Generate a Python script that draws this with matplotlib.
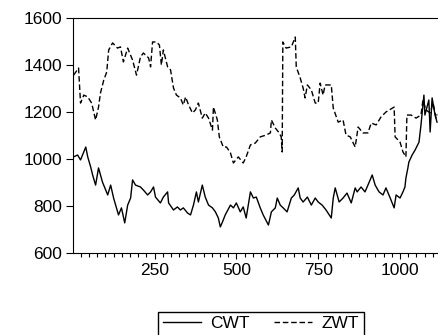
import matplotlib
matplotlib.use("Agg")
import matplotlib.pyplot as plt
from matplotlib.ticker import MultipleLocator

cwt_obs = [3, 15, 24, 40, 46, 55, 61, 70, 79, 91, 107, 116, 125, 140, 149, 159,
           168, 177, 183, 192, 207, 216, 229, 238, 247, 253, 268, 277, 290, 293,
           308, 320, 329, 338, 351, 360, 369, 378, 384, 396, 405, 415, 427, 436,
           445, 451, 457, 466, 482, 491, 500, 512, 521, 530, 543, 552, 561, 573,
           582, 598, 607, 619, 625, 634, 643, 655, 668, 677, 689, 695, 704, 717,
           729, 741, 750, 762, 774, 790, 796, 802, 814, 826, 838, 851, 863, 869,
           881, 893, 902, 915, 924, 936, 948, 957, 970, 982, 988, 1000, 1009,
           1015, 1018, 1024, 1027, 1037, 1046, 1058, 1064, 1073, 1076, 1088,
           1092, 1098, 1107, 1113]
cwt_val = [1009, 1017, 996, 1051, 1009, 966, 932, 889, 962, 902, 847, 889, 834,
           762, 792, 728, 804, 834, 911, 889, 881, 868, 847, 860, 881, 838, 813,
           838, 860, 813, 783, 796, 783, 792, 770, 762, 804, 860, 817, 889, 838,
           804, 792, 775, 749, 711, 730, 762, 804, 792, 813, 775, 796, 749, 860,
           834, 838, 792, 762, 719, 775, 792, 834, 804, 792, 775, 834, 847, 877,
           834, 817, 838, 804, 834, 817, 804, 783, 749, 834, 877, 817, 834, 855,
           813, 877, 860, 881, 860, 889, 932, 889, 860, 847, 877, 834, 792, 847,
           834, 860, 881, 919, 962, 987, 1017, 1038, 1072, 1145, 1272, 1187,
           1251, 1115, 1260, 1187, 1157]

zwt_obs = [3, 18, 24, 34, 46, 58, 70, 79, 85, 95, 104, 110, 122, 137, 146, 155,
           168, 183, 195, 207, 216, 232, 238, 244, 256, 265, 271, 277, 290, 299,
           308, 317, 329, 338, 345, 354, 366, 375, 384, 396, 405, 415, 427, 430,
           442, 448, 460, 470, 482, 491, 506, 521, 530, 543, 558, 573, 591, 604,
           607, 619, 631, 637, 640, 642, 652, 668, 674, 680, 683, 695, 704, 710,
           717, 729, 741, 750, 756, 765, 771, 790, 796, 811, 826, 835, 848, 863,
           872, 887, 902, 912, 927, 942, 957, 982, 985, 1000, 1009, 1018, 1021,
           1034, 1049, 1064, 1070, 1079, 1092, 1101, 1110, 1113]
zwt_val = [1357, 1387, 1238, 1272, 1264, 1238, 1166, 1221, 1281, 1336, 1370,
           1464, 1494, 1472, 1477, 1413, 1472, 1421, 1357, 1434, 1451, 1430,
           1392, 1498, 1498, 1485, 1400, 1464, 1392, 1379, 1302, 1272, 1260,
           1230, 1264, 1230, 1196, 1209, 1238, 1174, 1196, 1174, 1123, 1221,
           1166, 1094, 1051, 1051, 1026, 983, 1009, 983, 1009, 1060, 1068, 1094,
           1102, 1111, 1166, 1132, 1111, 1094, 1030, 1498, 1472, 1477, 1498,
           1519, 1392, 1345, 1302, 1260, 1315, 1294, 1238, 1238, 1323, 1272,
           1315, 1315, 1217, 1157, 1166, 1102, 1094, 1051, 1136, 1111, 1111,
           1153, 1145, 1179, 1200, 1221, 1094, 1072, 1030, 1009, 1187, 1187,
           1174, 1187, 1251, 1209, 1196, 1238, 1174, 1190]

plt.rcParams['font.family'] = ['Liberation Sans', 'DejaVu Sans']

fig = plt.figure(figsize=(4.38, 3.35), dpi=100)
ax = fig.add_axes([73/438, 1 - 253/335, 1 - 73/438, (253 - 18)/335])

ax.plot(cwt_obs, cwt_val, color='black', lw=1.0, label='CWT')
ax.plot(zwt_obs, zwt_val, color='black', lw=1.0, ls=(0, (4, 2)), label='ZWT')

ax.set_xlim(1, 1116)
ax.set_ylim(600, 1600)
ax.xaxis.set_major_locator(MultipleLocator(250))
ax.xaxis.set_minor_locator(MultipleLocator(25))
ax.yaxis.set_major_locator(MultipleLocator(200))
ax.tick_params(axis='x', which='major', direction='out', length=4.5, width=0.8,
               pad=3, labelsize=12.5)
ax.tick_params(axis='x', which='minor', direction='out', length=3, width=0.8)
ax.tick_params(axis='y', direction='out', length=5, width=0.8, pad=3,
               labelsize=12.5)
ax.spines['right'].set_visible(False)

# legend box sits under the plot, partly cut off by the figure edge
fig.legend(loc='upper center', bbox_to_anchor=(261/438, 1 - 303/335), ncol=2,
           fontsize=12.5, frameon=True, fancybox=False, edgecolor='black',
           framealpha=1, handlelength=2.2, handletextpad=0.55,
           columnspacing=1.4, borderpad=0.25)

fig.savefig('out.png', dpi=100)
